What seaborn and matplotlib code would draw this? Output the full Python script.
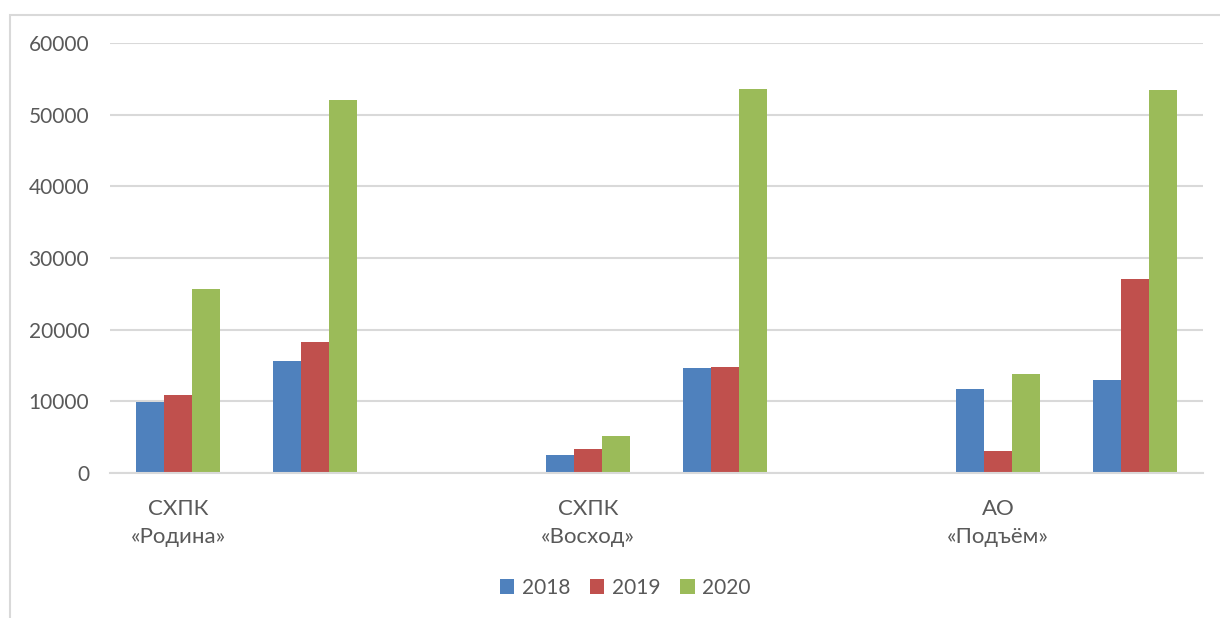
import matplotlib
matplotlib.use("Agg")
import matplotlib.pyplot as plt
from matplotlib.patches import Rectangle
import seaborn as sns
import pandas as pd

# catégories (les positions vides gardent l'espace entre les entreprises)
categories = ["Родина-1", "Родина-2", "gap-1", "Восход-1", "Восход-2", "gap-2", "Подъём-1", "Подъём-2"]
tick_labels = ["СХПК\n«Родина»", "", "", "СХПК\n«Восход»", "", "", "АО\n«Подъём»", ""]
data_categories = ["Родина-1", "Родина-2", "Восход-1", "Восход-2", "Подъём-1", "Подъём-2"]
years = ["2018", "2019", "2020"]
values_2018 = [9900, 15600, 2500, 14650, 11700, 12950]
values_2019 = [10900, 18250, 3350, 14800, 3050, 27050]
values_2020 = [25700, 52100, 5200, 53600, 13800, 53400]
colors = ["#4F81BD", "#C0504D", "#9BBB59"]

rows = []
for year, vals in zip(years, [values_2018, values_2019, values_2020]):
    for cat, v in zip(data_categories, vals):
        rows.append({"category": cat, "year": year, "value": v})
df = pd.DataFrame(rows)

sns.set_style("white")
plt.rcParams["font.family"] = ["Lato", "DejaVu Sans"]
text_color = "#595959"
grid_color = "#D9D9D9"

fig = plt.figure(figsize=(12.2, 6.18), dpi=100)
ax = fig.add_axes([110 / 1220, 1 - 473 / 618, 1093 / 1220, 430 / 618])

sns.barplot(
    data=df,
    x="category",
    y="value",
    hue="year",
    order=categories,
    hue_order=years,
    palette=colors,
    width=0.615,
    linewidth=0,
    saturation=1,
    ax=ax,
)

ax.set_ylim(0, 60000)
ax.set_xlim(-0.5, len(categories) - 0.5)
ax.set_yticks(range(0, 60001, 10000))
ax.set_yticklabels([str(v) for v in range(0, 60001, 10000)])
ax.set_xticks(range(len(categories)))
ax.set_xticklabels(tick_labels, linespacing=1.45)
ax.tick_params(axis="y", length=0, labelsize=15, colors=text_color, pad=15)
ax.tick_params(axis="x", length=0, labelsize=16, colors=text_color, pad=19)
ax.set_xlabel("")
ax.set_ylabel("")
ax.grid(axis="y", color=grid_color, linewidth=1.5)
ax.set_axisbelow(True)
for side in ["top", "right", "left"]:
    ax.spines[side].set_visible(False)
ax.spines["bottom"].set_color(grid_color)
ax.spines["bottom"].set_linewidth(1.5)

ax.legend(
    loc="center",
    bbox_to_anchor=(625 / 1220, 1 - 588 / 618),
    bbox_transform=fig.transFigure,
    ncol=3,
    frameon=False,
    fontsize=15,
    handlelength=0.7,
    handleheight=0.7,
    handletextpad=0.35,
    columnspacing=0.95,
    labelcolor=text_color,
)

# cadre du graphique (coupé à droite et en bas)
fig.patches.append(
    Rectangle(
        (10 / 1220, -0.1),
        1.2,
        1.1 - 15 / 618,
        transform=fig.transFigure,
        fill=False,
        edgecolor=grid_color,
        linewidth=1.5,
        clip_on=False,
    )
)

fig.savefig("out.png", dpi=100)
